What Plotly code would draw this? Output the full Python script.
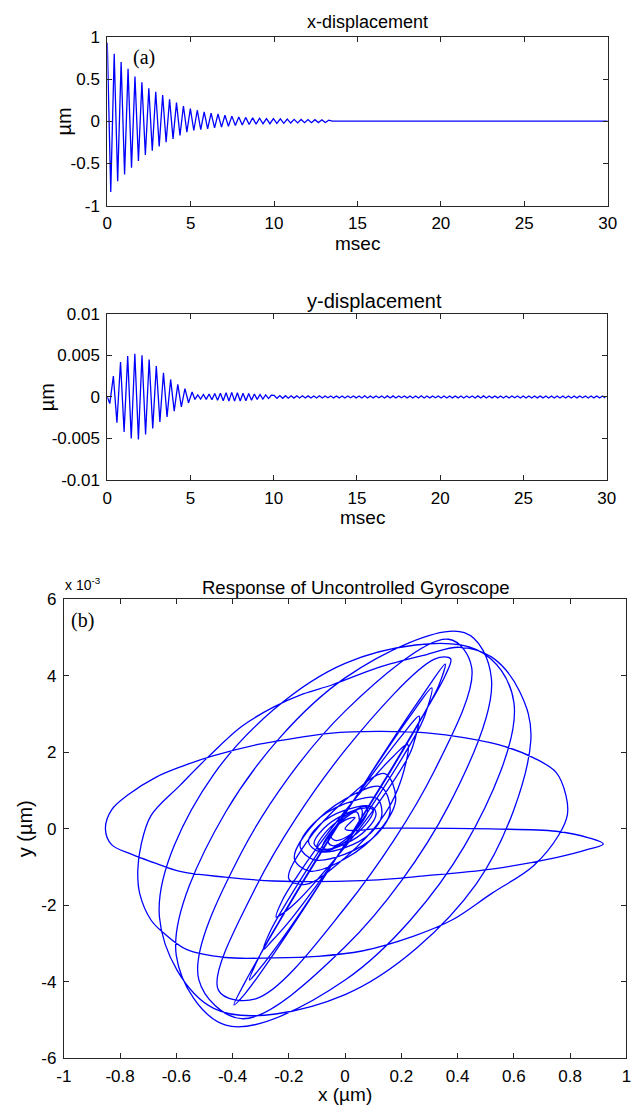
import numpy as np
import plotly.graph_objects as go

BLUE = "rgb(0,0,255)"
AXIS = "#262626"
SANS = "Liberation Sans, Arial, sans-serif"
SERIF = "Liberation Serif, Times New Roman, serif"

# ---- x-displacement: successive extrema (um), one every half period ----
X_HALF_PERIOD_MS = 0.2075
x_extrema_um = [
    0.93, -0.84, 0.80, -0.71, 0.70, -0.63, 0.62, -0.55, 0.53, -0.47,
    0.46, -0.40, 0.39, -0.35, 0.35, -0.30, 0.31, -0.25, 0.26, -0.21,
    0.22, -0.17, 0.18, -0.13, 0.15, -0.11, 0.13, -0.10, 0.11, -0.09,
    0.095, -0.08, 0.085, -0.07, 0.07, -0.06, 0.06, -0.05, 0.05, -0.045,
    0.045, -0.04, 0.04, -0.035, 0.035, -0.03, 0.03, -0.03, 0.03, -0.025,
    0.028, -0.025, 0.025, -0.022, 0.022, -0.02, 0.02, -0.018, 0.02, -0.018,
    0.018, -0.016, 0.016, -0.015, 0.012, 0.0,
]
X_END_MS = 30.0
X_END_UM = 0.0

# ---- y-displacement: extrema in units of 1e-3 um ----
Y_START = (0.0, 0.0)              # (msec, value)
Y_BURST_T0_MS = 0.15
Y_BURST_HALF_PERIOD_MS = 0.215
y_burst_milli = [
    -0.8, 2.5, -3.1, 4.2, -4.2, 4.9, -5.0, 5.2, -5.1, 5.0,
    -4.5, 4.5, -3.8, 3.7, -3.0, 2.9, -2.4, 2.1, -1.7, 1.5,
    -1.2, 1.0, -0.7, 0.6,
]
Y_TAIL_HALF_PERIOD_MS = 0.17
y_tail_milli = [
    -0.30, 0.25, -0.25, 0.30, -0.30, 0.35, -0.35, 0.40, -0.40, 0.45,
    -0.45, 0.50, -0.50, 0.55, -0.50, 0.50, -0.50, 0.45, -0.45, 0.40,
    -0.40, 0.35, -0.30, 0.30, -0.25, 0.25, -0.20, 0.20,
    0.18, -0.17, 0.16, -0.16, 0.15, -0.15, 0.14, -0.14, 0.14, -0.13,
    0.13, -0.13, 0.12, -0.12, 0.12, -0.12, 0.13, -0.12, 0.12, -0.11,
    0.12, -0.12, 0.11, -0.12, 0.12, -0.12, 0.12, -0.11, 0.11, -0.12,
    0.12, -0.12, 0.13, -0.12, 0.12, -0.12, 0.11, -0.11, 0.12, -0.12,
    0.12, -0.13, 0.12, -0.12, 0.12, -0.11, 0.11, -0.12, 0.12, -0.12,
    0.12, -0.12, 0.13, -0.12, 0.12, -0.12, 0.11, -0.11, 0.12, -0.12,
    0.12, -0.12, 0.12, -0.12, 0.11, -0.12, 0.12, -0.12, 0.12, -0.11,
    0.12, -0.12, 0.12, -0.13, 0.12, -0.12, 0.12, -0.12, 0.11, -0.12,
    0.12, -0.12, 0.12, -0.12, 0.12, -0.11, 0.12, -0.12, 0.12, -0.12,
    0.12, -0.12, 0.12, -0.12, 0.11, -0.12, 0.12, -0.12, 0.12, -0.12,
    0.12, -0.12, 0.12, -0.12, 0.12, -0.12, 0.12, -0.12, 0.11, -0.11,
    0.12, -0.12, 0.12, -0.12, 0.11, -0.12, 0.12, -0.12, 0.12, -0.12,
    0.12, -0.11, 0.0,
]

# ---- phase portrait x (um) vs y (1e-3 um), one revolution per block ----
gyro_x_um = [
    # revolution 1
    0.0, 0.15, 0.52, 0.75, 0.866, 0.918, 0.866, 0.75, 0.52, 0.29, 0.06, -0.253,
    -0.426, -0.587, -0.68, -0.76, -0.83, -0.852, -0.83, -0.77, -0.673, -0.575,
    -0.47, -0.31, -0.172, -0.056, 0.117, 0.29, 0.428, 0.566, 0.67, 0.75, 0.785, 0.79,
    # revolution 2
    0.76, 0.67, 0.52, 0.38, 0.244, 0.06, -0.1, -0.253, -0.426, -0.564, -0.645,
    -0.69, -0.73, -0.737, -0.725, -0.69, -0.587, -0.483, -0.368, -0.253, -0.149,
    -0.045, 0.117, 0.29, 0.405, 0.52, 0.62,
    # revolutions 3 .. 6
    0.66, 0.467, 0.0, -0.467, -0.66, -0.467, 0.0, 0.467,
    0.60, 0.424, 0.0, -0.424, -0.60, -0.424, 0.0, 0.424,
    0.52, 0.368, 0.0, -0.368, -0.52, -0.368, 0.0, 0.368,
    0.45, 0.318, 0.0, -0.318, -0.45, -0.318, 0.0, 0.318,
    # narrow, pointed revolutions 7 .. 10
    0.375, 0.356, 0.272, 0.147, 0.0, -0.147, -0.272, -0.356,
    -0.395, -0.356, -0.272, -0.147, 0.0, 0.147, 0.272, 0.356,
    0.333, 0.308, 0.235, 0.127, 0.0, -0.127, -0.235, -0.308,
    -0.340, -0.308, -0.235, -0.127, 0.0, 0.127, 0.235, 0.308,
    0.285, 0.263, 0.2015, 0.109, 0.0, -0.109, -0.2015, -0.263,
    -0.290, -0.263, -0.2015, -0.109, 0.0, 0.109, 0.2015, 0.263,
    0.240, 0.222, 0.170, 0.092, 0.0, -0.092, -0.170, -0.222,
    -0.245, -0.222, -0.170, -0.092, 0.0, 0.092, 0.170, 0.222,
    # widening inner revolutions 11 .. 19
    0.20, 0.141, 0.0, -0.141, -0.20, -0.141, 0.0, 0.141,
    0.18, 0.127, 0.0, -0.127, -0.18, -0.127, 0.0, 0.127,
    0.16, 0.113, 0.0, -0.113, -0.16, -0.113, 0.0, 0.113,
    0.13, 0.092, 0.0, -0.092, -0.13, -0.092, 0.0, 0.092,
    0.11, 0.078, 0.0, -0.078, -0.11, -0.078, 0.0, 0.078,
    0.10, 0.071, 0.0, -0.071, -0.10, -0.071, 0.0, 0.071,
    0.08, 0.057, 0.0, -0.057, -0.08, -0.057, 0.0, 0.057,
    0.06, 0.042, 0.0, -0.042, -0.06, -0.042, 0.0, 0.042,
    0.05, 0.035, 0.0, -0.035, -0.05, -0.035, 0.0, 0.035,
    0.0,
]
gyro_y_milli = [
    # revolution 1
    0.0, 0.02, 0.0, -0.06, -0.23, -0.39, -0.53, -0.75, -1.05, -1.22, -1.35, -1.36,
    -1.26, -1.11, -0.88, -0.66, -0.41, 0.0, 0.5, 0.9, 1.35, 1.65,
    1.91, 2.21, 2.38, 2.5, 2.55, 2.51, 2.38, 2.16, 1.86, 1.48, 0.88, 0.37,
    # revolution 2
    -0.15, -0.96, -1.69, -2.38, -2.8, -3.19, -3.33, -3.37, -3.36, -3.15, -2.72,
    -2.38, -1.69, -1.09, -0.41, 0.35, 1.14, 1.91, 2.68, 3.19, 3.53,
    3.77, 4.22, 4.56, 4.75, 4.5, 3.6,
    # revolutions 3 .. 6
    2.30, -1.43, -4.33, -4.69, -2.30, 1.43, 4.33, 4.69,
    3.31, -0.45, -3.95, -5.13, -3.31, 0.45, 3.95, 5.13,
    3.94, 0.61, -3.08, -4.96, -3.94, -0.61, 3.08, 4.96,
    4.22, 1.53, -2.06, -4.44, -4.22, -1.53, 2.06, 4.44,
    # narrow, pointed revolutions 7 .. 10
    4.45, 4.01, 2.91, 1.36, -0.39, -2.09, -3.46, -4.31,
    -4.60, -4.01, -2.91, -1.36, 0.39, 2.09, 3.46, 4.31,
    3.75, 3.38, 2.42, 1.09, -0.40, -1.84, -2.99, -3.69,
    -3.95, -3.38, -2.42, -1.09, 0.40, 1.84, 2.99, 3.69,
    3.00, 2.63, 1.84, 0.76, -0.42, -1.55, -2.44, -2.95,
    -3.15, -2.63, -1.84, -0.76, 0.42, 1.55, 2.44, 2.95,
    2.15, 1.85, 1.23, 0.41, -0.47, -1.27, -1.89, -2.21,
    -2.30, -1.85, -1.23, -0.41, 0.47, 1.27, 1.89, 2.21,
    # widening inner revolutions 11 .. 19
    1.30, 0.39, -0.75, -1.45, -1.30, -0.39, 0.75, 1.45,
    0.78, 0.0, -0.78, -1.10, -0.78, 0.0, 0.78, 1.10,
    0.46, -0.14, -0.66, -0.80, -0.46, 0.14, 0.66, 0.80,
    0.34, -0.10, -0.49, -0.59, -0.34, 0.10, 0.49, 0.59,
    0.39, 0.0, -0.39, -0.55, -0.39, 0.0, 0.39, 0.55,
    0.49, 0.10, -0.34, -0.59, -0.49, -0.10, 0.34, 0.59,
    0.48, 0.14, -0.28, -0.53, -0.48, -0.14, 0.28, 0.53,
    0.34, 0.04, -0.29, -0.44, -0.34, -0.04, 0.29, 0.44,
    0.19, -0.03, -0.23, -0.30, -0.19, 0.03, 0.23, 0.30,
    0.0,
]

# tick labels (MATLAB style, hyphen minus)
t_ticks = [0, 5, 10, 15, 20, 25, 30]
x_disp_ticks = [-1, -0.5, 0, 0.5, 1]
x_disp_labels = ["-1", "-0.5", "0", "0.5", "1"]
y_disp_ticks = [-0.01, -0.005, 0, 0.005, 0.01]
y_disp_labels = ["-0.01", "-0.005", "0", "0.005", "0.01"]
orbit_x_ticks = [-1, -0.8, -0.6, -0.4, -0.2, 0, 0.2, 0.4, 0.6, 0.8, 1]
orbit_x_labels = ["-1", "-0.8", "-0.6", "-0.4", "-0.2", "0", "0.2", "0.4", "0.6", "0.8", "1"]
orbit_y_ticks = [-6, -4, -2, 0, 2, 4, 6]
orbit_y_labels = ["-6", "-4", "-2", "0", "2", "4", "6"]

# ---- build traces ----
t_x = list(np.arange(len(x_extrema_um)) * X_HALF_PERIOD_MS) + [X_END_MS]
v_x = list(x_extrema_um) + [X_END_UM]

t_burst = Y_BURST_T0_MS + np.arange(len(y_burst_milli)) * Y_BURST_HALF_PERIOD_MS
t_tail = t_burst[-1] + (np.arange(len(y_tail_milli)) + 1) * Y_TAIL_HALF_PERIOD_MS
keep = t_tail <= 30.0
t_y = [Y_START[0]] + list(t_burst) + list(t_tail[keep])
v_y = [Y_START[1]] + [v * 1e-3 for v in y_burst_milli] + \
      [v * 1e-3 for v, k in zip(y_tail_milli, keep) if k]

W, H = 640, 1114


def px(xp):
    return xp / W


def py(yp):
    return 1 - yp / H


fig = go.Figure()
line = dict(color=BLUE, width=1.3)
fig.add_trace(go.Scatter(x=t_x, y=v_x, mode="lines", line=line, xaxis="x", yaxis="y"))
fig.add_trace(go.Scatter(x=t_y, y=v_y, mode="lines", line=line, xaxis="x2", yaxis="y2"))
fig.add_trace(go.Scatter(x=gyro_x_um, y=gyro_y_milli, mode="lines",
                         line=dict(color=BLUE, width=1.3, shape="spline", smoothing=1.0),
                         xaxis="x3", yaxis="y3"))

tick_font = dict(family=SANS, size=17, color="black")
common = dict(showline=True, linecolor=AXIS, linewidth=1, mirror="ticks", ticks="inside",
              ticklen=5, tickcolor=AXIS, tickwidth=1, showgrid=False, zeroline=False,
              tickfont=tick_font, tickmode="array")
xcommon = dict(common, ticklabelstandoff=2)
ycommon = dict(common, ticklabelstandoff=3)

fig.update_layout(
    width=W, height=H, margin=dict(l=0, r=0, t=0, b=0),
    paper_bgcolor="white", plot_bgcolor="white", showlegend=False,
    xaxis=dict(domain=[px(102), px(616)], anchor="y", range=[0, 30],
               tickvals=t_ticks, ticktext=[str(v) for v in t_ticks], **xcommon),
    yaxis=dict(domain=[py(200), py(28.3)], anchor="x", range=[-1, 1],
               tickvals=x_disp_ticks, ticktext=x_disp_labels, **ycommon),
    xaxis2=dict(domain=[px(102), px(615)], anchor="y2", range=[0, 30],
                tickvals=t_ticks, ticktext=[str(v) for v in t_ticks], **xcommon),
    yaxis2=dict(domain=[py(479.3), py(310)], anchor="x2", range=[-0.01, 0.01],
                tickvals=y_disp_ticks, ticktext=y_disp_labels, **ycommon),
    xaxis3=dict(domain=[px(57.3), px(635.3)], anchor="y3", range=[-1, 1],
                tickvals=orbit_x_ticks, ticktext=orbit_x_labels, **xcommon),
    yaxis3=dict(domain=[py(1067.7), py(600.7)], anchor="x3", range=[-6, 6],
                tickvals=orbit_y_ticks, ticktext=orbit_y_labels, **ycommon),
)


def note(text, x, y, size, family=SANS, angle=0, xanchor="center"):
    fig.add_annotation(text=text, x=px(x), y=py(y), xref="paper", yref="paper",
                       showarrow=False, xanchor=xanchor, yanchor="middle",
                       textangle=angle, font=dict(family=family, size=size, color="black"))


note("x-displacement", 369, 13, 18)
note("(a)", 140, 49, 20, family=SERIF)
note("msec", 359, 239, 19)
note("\u00b5m", 58, 114, 20, angle=-90)

note("y-displacement", 377, 297, 20)
note("msec", 364, 517, 19)
note("\u00b5m", 40, 395, 20, angle=-90)

note("Response of Uncontrolled Gyroscope", 357, 589, 18.5)
note("x 10<sup>-3</sup>", 57, 585, 14, xanchor="left")
note("(b)", 77, 622, 20, family=SERIF)
note("y (\u00b5m)", 17, 834, 20, angle=-90)
note("x (\u00b5m)", 346, 1104, 19)

fig.write_html("out.html")
